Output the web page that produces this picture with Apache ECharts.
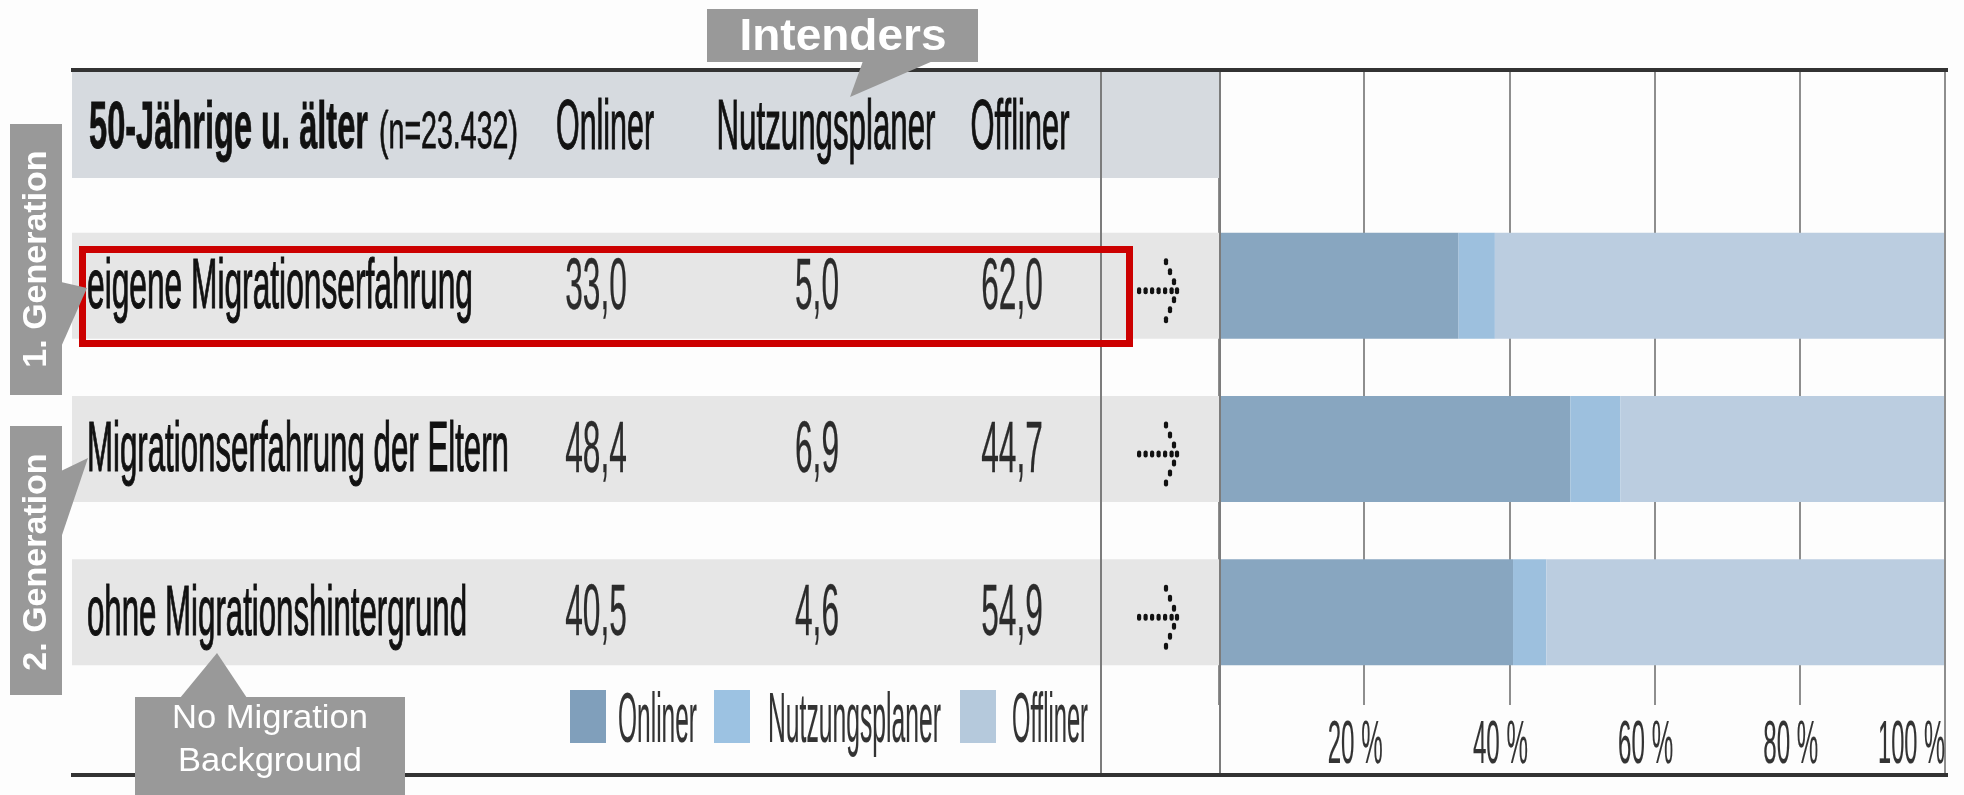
<!DOCTYPE html>
<html><head><meta charset="utf-8">
<script src="https://cdn.jsdelivr.net/npm/echarts@6/dist/echarts.min.js"></script>
<style>html,body{margin:0;padding:0;background:#fdfdfd}#c{width:1964px;height:795px}</style>
</head><body><div id="c"></div>
<script>
// ---- data ----
const categories = ['eigene Migrationserfahrung', 'Migrationserfahrung der Eltern', 'ohne Migrationshintergrund'];
const seriesNames = ['Onliner', 'Nutzungsplaner', 'Offliner'];
const onliner = [33.0, 48.4, 40.5];
const nutzungsplaner = [5.0, 6.9, 4.6];
const offliner = [62.0, 44.7, 54.9];
const tickValues = [20, 40, 60, 80, 100];
const tickLabels = ['20 %', '40 %', '60 %', '80 %', '100 %'];
const headerTitle = '50-Jährige u. älter';
const headerN = '(n=23.432)';
const calloutIntenders = 'Intenders';
const calloutGen1 = '1. Generation';
const calloutGen2 = '2. Generation';
const calloutNoMig = ['No Migration', 'Background'];

// ---- styles / layout ----
const colors = ['#88a6c0', '#9dc0de', '#bbcde0'];
const legendColors = ['#809fbb', '#9cc2e2', '#b5c9dc'];
const FF = '"Liberation Sans", Arial, Helvetica, sans-serif';
const labelWidths = [386, 422, 380];
const colCenters = [605, 826, 1020];
const colHeaderWidths = [98, 219, 99];
const valCenters = [596, 817, 1012];
const legendBoxX = [570, 714, 960];
const legendTextX = [618, 768, 1012];
const legendTextW = [79, 173, 76];

const seriesData = [onliner, nutzungsplaner, offliner];
const chart = echarts.init(document.getElementById('c'), null, {renderer: 'canvas'});

chart.setOption({
  backgroundColor: '#fdfdfd',
  animation: false,
  grid: [
    {left: 1219, width: 726, top: 204, height: 490},
    {left: 1219, width: 726, top: 72, height: 633}
  ],
  xAxis: [
    {gridIndex: 0, type: 'value', min: 0, max: 100, show: false},
    {gridIndex: 1, type: 'value', min: 0, max: 100, interval: 20,
     axisLine: {show: false}, axisTick: {show: false}, axisLabel: {show: false},
     splitLine: {show: true, lineStyle: {color: '#8e8e8e', width: 2}}}
  ],
  yAxis: [
    {gridIndex: 0, type: 'category', data: categories, inverse: true, show: false},
    {gridIndex: 1, type: 'value', min: 0, max: 1, show: false}
  ],
  series: seriesNames.map((n, i) => ({
    name: n, type: 'bar', stack: 'total', barWidth: 106,
    xAxisIndex: 0, yAxisIndex: 0,
    itemStyle: {color: colors[i]},
    data: seriesData[i]
  }))
});

const mctx = document.createElement('canvas').getContext('2d');
function measure(str, font) { mctx.font = font; return mctx.measureText(str).width; }
function T(str, x, y, o) {
  const font = (o.weight || 'normal') + ' ' + o.size + 'px ' + FF;
  let sx = o.sx || 1;
  if (o.w) sx = o.w / measure(str, font);
  const al = o.align || 'left';
  const st = {text: str, font: font, fill: o.color || '#111',
      textAlign: al, textVerticalAlign: 'middle', align: al, verticalAlign: 'middle'};
  if (o.sw) { st.stroke = o.color || '#111'; st.lineWidth = o.sw; }
  return {type: 'text', x: x, y: y, scaleX: sx, scaleY: 1, rotation: o.rot || 0, z: o.z || 10, silent: true, style: st};
}
function R(x, y, w, h, fill, z) {
  return {type: 'rect', shape: {x: x, y: y, width: w, height: h}, style: {fill: fill}, z: z || 1, silent: true};
}
function L(x1, y1, x2, y2, color, w, z) {
  return {type: 'line', shape: {x1: x1, y1: y1, x2: x2, y2: y2}, style: {stroke: color, lineWidth: w}, z: z || 5, silent: true};
}
function P(pts, fill, z) {
  return {type: 'polygon', shape: {points: pts}, style: {fill: fill}, z: z || 20, silent: true};
}
const fmt = v => v.toFixed(1).replace('.', ',');

const rowY = categories.map(c => chart.convertToPixel({yAxisIndex: 0}, c));
const halfBar = 53;
const els = [];

// header band
els.push(R(72, 72, 1147, 106, '#d6dadf', 1));
// row bands
rowY.forEach(y => els.push(R(72, y - halfBar, 1147, halfBar * 2, '#e6e6e6', 1)));
// lines
els.push(L(1101, 72, 1101, 773, '#7c7c7c', 2, 5));
els.push(L(1220, 72, 1220, 773, '#7c7c7c', 2, 5));
els.push(L(1945, 72, 1945, 773, '#8e8e8e', 2, 5));
els.push(L(71, 70, 1948, 70, '#333', 4, 6));
els.push(L(71, 775, 1948, 775, '#333', 4, 6));

// header texts
els.push(T(headerTitle, 89, 130, {size: 66, weight: 'bold', w: 279, sw: 0.8}));
els.push(T(headerN, 379, 134, {size: 52, w: 139, sw: 0.8}));
seriesNames.forEach((n, i) => els.push(T(n, colCenters[i], 130, {size: 70, w: colHeaderWidths[i], align: 'center', sw: 1.2})));

// rows
rowY.forEach((y, r) => {
  els.push(T(categories[r], 87, y + 3, {size: 70, w: labelWidths[r], sw: 1.2}));
  seriesData.forEach((arr, i) => els.push(T(fmt(arr[r]), valCenters[i], y + 3, {size: 72, sx: 0.44, align: 'center', color: '#2b2b2b', sw: 0.3})));
  // dotted arrow
  const cy = y + 5;
  for (let k = 0; k < 6; k++) els.push({type: 'rect', shape: {x: 1139 + k * 6.5 - 2, y: cy - 3.5, width: 4.2, height: 7, r: 2}, style: {fill: '#111'}, z: 10, silent: true});
  [[1166, -29], [1170, -19], [1174, -9], [1177, 0], [1174, 9], [1170, 19], [1166, 29]].forEach(p =>
    els.push({type: 'rect', shape: {x: p[0] - 2.1, y: cy + p[1] - 3.5, width: 4.2, height: 7, r: 2}, style: {fill: '#111'}, z: 10, silent: true}));
});

// legend
seriesNames.forEach((n, i) => {
  els.push(R(legendBoxX[i], 690, 36, 53, legendColors[i], 3));
  els.push(T(n, legendTextX[i], 723, {size: 70, w: legendTextW[i], color: '#333', sw: 0.2}));
});

// tick labels
tickValues.forEach((v, i) => {
  const px = chart.convertToPixel({xAxisIndex: 1}, v);
  const last = i === tickValues.length - 1;
  els.push(T(tickLabels[i], last ? px : px - 9, 746, {size: 62, w: last ? 67 : 55, align: last ? 'right' : 'center', color: '#333', sw: 0.2}));
});

// red highlight box
els.push({type: 'rect', shape: {x: 82.5, y: 249.5, width: 1047, height: 94}, style: {fill: 'none', stroke: '#cc0000', lineWidth: 7}, z: 15, silent: true});

// callouts
const CG = '#999999';
els.push(R(707, 9, 271, 53, CG, 20));
els.push(P([[863, 61], [933, 61], [850, 97]], CG, 20));
els.push(T(calloutIntenders, 843, 38, {size: 44, weight: 'bold', w: 207, align: 'center', color: '#fff', z: 21}));

els.push(R(10, 124, 52, 271, CG, 20));
els.push(P([[61, 282], [87, 288], [61, 347]], CG, 20));
els.push(T(calloutGen1, 37, 259, {size: 34, weight: 'bold', align: 'center', color: '#fff', rot: Math.PI / 2, z: 21}));

els.push(R(10, 426, 52, 269, CG, 20));
els.push(P([[61, 471], [88, 458], [61, 538]], CG, 20));
els.push(T(calloutGen2, 37, 562, {size: 34, weight: 'bold', align: 'center', color: '#fff', rot: Math.PI / 2, z: 21}));

els.push(R(135, 697, 270, 98, CG, 20));
els.push(P([[180, 698], [247, 698], [217, 653]], CG, 20));
els.push(T(calloutNoMig[0], 270, 719, {size: 33, w: 196, align: 'center', color: '#fff', z: 21}));
els.push(T(calloutNoMig[1], 270, 762, {size: 33, w: 184, align: 'center', color: '#fff', z: 21}));

chart.setOption({graphic: {elements: els}});
</script>
</body></html>
